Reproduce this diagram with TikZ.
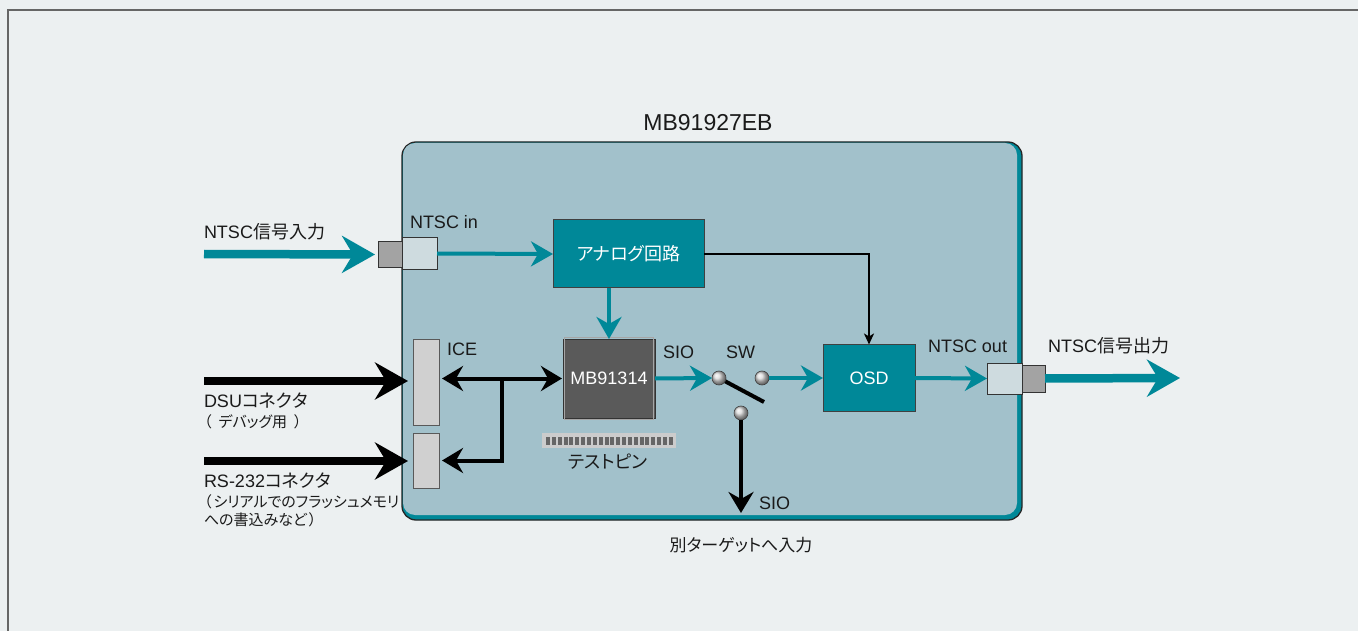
\documentclass[tikz,border=0pt]{standalone}
\usepackage{fontspec}
\setmainfont{Liberation Sans}
\newfontfamily\jp[RawFeature=+palt]{Noto Sans CJK JP}
\usetikzlibrary{arrows.meta,calc}
\definecolor{bgc}{HTML}{ECF0F1}
\definecolor{boardc}{HTML}{A2C1CB}
\definecolor{tealc}{HTML}{008898}
\definecolor{darkc}{HTML}{5A5A5A}
\definecolor{conlight}{HTML}{CEDBDF}
\definecolor{condark}{HTML}{A3A3A3}
\definecolor{icec}{HTML}{D0D0D0}
\definecolor{txtc}{HTML}{1A1A1A}
\tikzset{
  lbl/.style={anchor=base west, text=txtc, font=\fontsize{18}{20}\selectfont},
  lblc/.style={anchor=base, text=txtc, font=\fontsize{18}{20}\selectfont},
  lbls/.style={anchor=base west, text=txtc, font=\jp\fontsize{15}{17}\selectfont},
  blockbox/.style={draw=black!75, line width=1pt, text=white, font=\fontsize{18}{20}\selectfont},
  conbox/.style={draw=black!80, line width=1pt},
  ballnode/.style={circle, minimum size=14pt, ball color=gray!30, draw=black!75, line width=0.6pt},
  bigteal/.style={draw=tealc, line width=8.5pt, -{Stealth[length=33pt,width=37pt,inset=11pt]}},
  bigblack/.style={draw=black, line width=8.5pt, -{Stealth[length=33pt,width=37pt,inset=11pt]}},
  medteal/.style={draw=tealc, line width=4pt, -{Stealth[length=22pt,width=25pt,inset=7pt]}},
  medblack/.style={draw=black, line width=4pt, -{Stealth[length=21pt,width=25pt,inset=7pt]}},
  thinblack/.style={draw=black, line width=2pt, -{Stealth[length=11pt,width=10pt,inset=3pt]}},
}
\begin{document}
\begin{tikzpicture}[x=1pt,y=-1pt, every node/.style={inner sep=0pt, outer sep=0pt}]
\useasboundingbox (0,0) rectangle (1358,631);
\fill[bgc] (0,0) rectangle (1358,631);
\draw[black!60, line width=1.2pt] (8,631) -- (8,10) -- (1358,10);

% board
\draw[fill=tealc, draw=black!85, line width=1.3pt, rounded corners=14pt] (402,142) rectangle (1022,520);
\fill[boardc, rounded corners=12pt] (403,143) rectangle (1017,515);
\node[lblc, font=\fontsize{23}{25}\selectfont] (title) at (708,131) {MB91927EB};

% connectors
\node[conbox, fill=condark, minimum width=24pt, minimum height=26pt] (cinD) at (390,254.5) {};
\node[conbox, fill=conlight, minimum width=35pt, minimum height=32pt] (cinL) at (419.5,253.5) {};
\node[conbox, fill=conlight, minimum width=35pt, minimum height=31pt] (coutL) at (1004.5,378.5) {};
\node[conbox, fill=condark, minimum width=23pt, minimum height=27pt] (coutD) at (1033.5,378.5) {};
\node[draw=black!65, line width=1pt, fill=icec, minimum width=26pt, minimum height=86pt] (ice) at (426,382) {};
\node[draw=black!65, line width=1pt, fill=icec, minimum width=26pt, minimum height=55pt] (rs) at (426,460.5) {};

% blocks
\node[blockbox, fill=tealc, minimum width=151pt, minimum height=68pt] (ana) at (628.5,254) {\jp アナログ回路};
\node[blockbox, fill=darkc, draw=black!80, minimum width=92pt, minimum height=79pt] (mb) at (609,378.5) {MB91314};
\draw[gray!70, line width=0.8pt] ([shift={(1.5pt,-1.5pt)}]mb.south west) rectangle ([shift={(-1.5pt,1.5pt)}]mb.north east);
\node[blockbox, fill=tealc, minimum width=92pt, minimum height=67pt] (osd) at (869,378) {OSD};

% test pins
\node[fill=gray!40, minimum width=134pt, minimum height=15pt] (tp) at (609,440.5) {};
\foreach \i in {0,...,21} {
  \fill[black!60] ($(tp.west)+(4+\i*5.85,-4)$) rectangle ++(4,8);
}
\node[lblc, font=\jp\fontsize{18}{20}\selectfont] (tplbl) at (608,468) {テストピン};

% switch
\coordinate (lv) at (764,402);
\draw[black, line width=4pt] (719,378) -- (lv);
\node[ballnode] (b1) at (719,378) {};
\node[ballnode] (b2) at (762,378) {};
\node[ballnode] (b3) at (741,413) {};

% arrows
\coordinate (inS) at (204,254);
\draw[bigteal] (inS) -- ([xshift=-3pt]cinD.west);
\draw[medteal] (cinL.east) -- (ana.west);
\draw[medteal] (ana.south -| mb.north) -- (mb.north);
\draw[thinblack] (ana.east) -| (osd.north);
\draw[medteal] (mb.east) -- (b1.west);
\draw[medteal] (b2.east) -- (osd.west);
\draw[medteal] (osd.east) -- (coutL.west);
\coordinate (outE) at (1180,378);
\draw[bigteal] (coutD.east) -- (outE);

\coordinate (dsuS) at (204,381);
\coordinate (rsS) at (204,461);
\draw[bigblack] (dsuS) -- ([xshift=-5pt]ice.west |- dsuS);
\draw[bigblack] (rsS) -- ([xshift=-5pt]rs.west |- rsS);
\draw[medblack, {Stealth[length=21pt,width=25pt,inset=7pt]}-{Stealth[length=21pt,width=25pt,inset=7pt]}] ([xshift=3pt]ice.east |- mb.west) -- ([xshift=-1pt]mb.west);
\coordinate (jn) at (500,378.5);
\draw[medblack, line cap=butt] ([xshift=2pt]jn) |- ([xshift=3pt]rs.east);
\coordinate (sioE) at (741,513);
\draw[medblack] (b3.south) -- (sioE);

% labels
\node[lbl] (l1) at (204,239) {NTSC{\jp 信号入力}};
\node[lbl] (l2) at (410,229) {NTSC in};
\node[lbl] (l3) at (447,355) {ICE};
\node[lbl] (l4) at (204,407) {DSU{\jp コネクタ}};
\node[lbls] (l5) at (204,427) {（\hspace{7pt}デバッグ用\hspace{7pt}）};
\node[lbl] (l6) at (204,487) {RS-232{\jp コネクタ}};
\node[lbls] (l7) at (204,507) {（\hspace{2pt}シリアルでのフラッシュメモリ};
\node[lbls] (l8) at (204,525) {への書込みなど\hspace{2pt}）};
\node[lbl] (l9) at (663,358) {SIO};
\node[lbl] (l10) at (726,358) {SW};
\node[lbl] (l11) at (759,509) {SIO};
\node[lblc, font=\jp\fontsize{17}{19}\selectfont] (l12) at (741,551) {別ターゲットへ入力};
\node[lbl] (l13) at (928,352) {NTSC out};
\node[lbl] (l14) at (1048,352) {NTSC{\jp 信号出力}};
\end{tikzpicture}
\end{document}
